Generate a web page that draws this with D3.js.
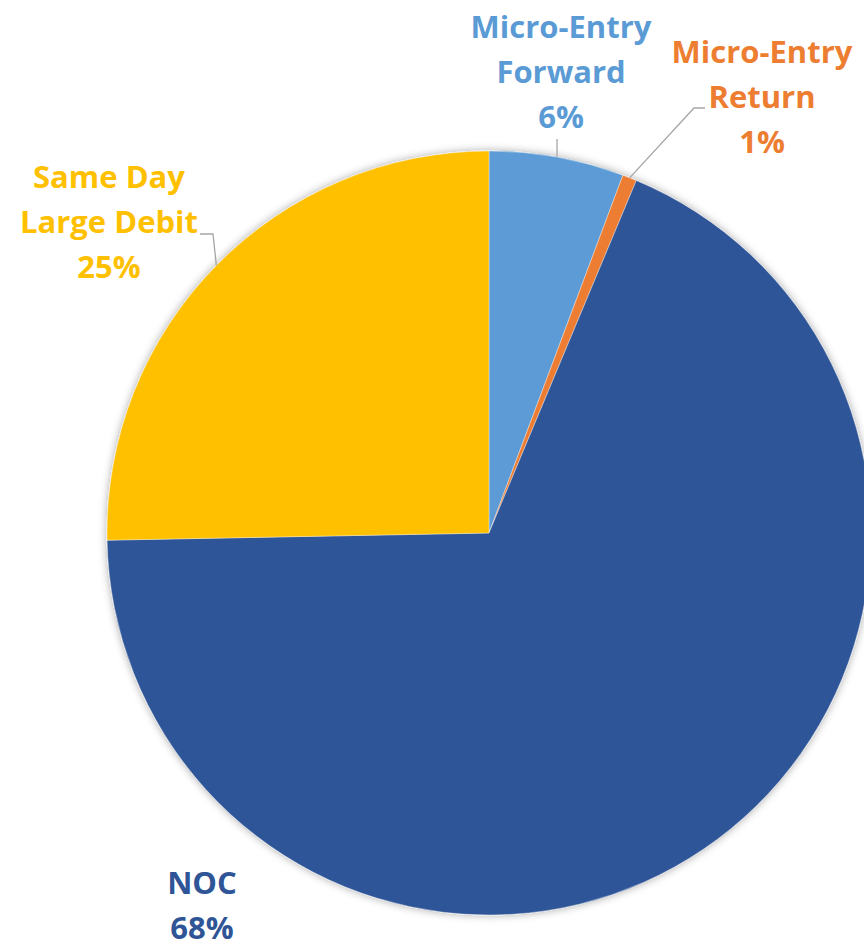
<!DOCTYPE html>
<html><head><meta charset="utf-8">
<script src="https://cdn.jsdelivr.net/npm/d3@7"></script>
<style>html,body{margin:0;padding:0;background:#fff;overflow:hidden}</style>
</head><body>
<svg id="chart" width="864" height="940"></svg>
<script>
const categories = ["Micro-Entry Forward", "Micro-Entry Return", "NOC", "Same Day Large Debit"];
const labelLines = [["Micro-Entry", "Forward"], ["Micro-Entry", "Return"], ["NOC"], ["Same Day", "Large Debit"]];
const values = [5.7, 0.6, 68.4, 25.3];
const colors = ["#5B9BD5", "#ED7D31", "#2F5597", "#FFC000"];

// layout: label block centre (x of text, y of first line) and leader elbow
const labelLayout = [
  {x: 561, y: 27, leader: "vertical"},
  {x: 762, y: 52, elbow: [694, 108], end: [705, 108]},
  {x: 202, y: 883, leader: null},
  {x: 109, y: 177, elbow: [213, 234], end: [200, 234]}
];

const W = 864, H = 940, cx = 489, cy = 533, R = 382;
const svg = d3.select("#chart");
const defs = svg.append("defs");
const f = defs.append("filter").attr("id", "shadow").attr("x", "-10%").attr("y", "-10%").attr("width", "120%").attr("height", "120%");
f.append("feDropShadow").attr("dx", 0).attr("dy", 0).attr("stdDeviation", 4).attr("flood-color", "#000").attr("flood-opacity", 0.35);

const data = categories.map((c, i) => ({c, v: values[i], i}));
const pie = d3.pie().value(d => d.v).sort(null);
const arcs = pie(data);
const arc = d3.arc().innerRadius(0).outerRadius(R);
const g = svg.append("g").attr("transform", `translate(${cx},${cy})`);
g.append("g").attr("filter", "url(#shadow)")
  .selectAll("path").data(arcs).join("path")
  .attr("d", arc).attr("fill", d => colors[d.data.i])
  .attr("stroke", "#ffffff").attr("stroke-width", 0.6).attr("stroke-opacity", 0.6);

const total = d3.sum(values);
const fmt = v => Math.round(v / total * 100) + "%";
const lineH = 45;
const fontSize = 31;

arcs.forEach((a, k) => {
  const L = labelLayout[k];
  const mid = (a.startAngle + a.endAngle) / 2;
  const px = cx + R * Math.sin(mid), py = cy - R * Math.cos(mid);
  const lines = labelLines[k].concat([fmt(a.data.v)]);
  if (L.leader === "vertical") {
    svg.append("line").attr("x1", px).attr("y1", py).attr("x2", px).attr("y2", L.y + lineH * (lines.length - 1) + 22)
      .attr("stroke", "#A6A6A6").attr("stroke-width", 1.3);
  } else if (L.elbow) {
    svg.append("polyline").attr("points", [[px, py], L.elbow, L.end].map(p => p.join(",")).join(" "))
      .attr("fill", "none").attr("stroke", "#A6A6A6").attr("stroke-width", 1.3);
  }
  const t = svg.append("text").attr("text-anchor", "middle")
    .attr("font-family", "'Open Sans', Lato, sans-serif").attr("font-weight", 700)
    .attr("font-size", fontSize).attr("fill", colors[a.data.i]);
  lines.forEach((s, j) => {
    t.append("tspan").attr("x", L.x).attr("y", L.y + j * lineH).attr("dy", "0.35em").text(s);
  });
});
</script>
</body></html>
